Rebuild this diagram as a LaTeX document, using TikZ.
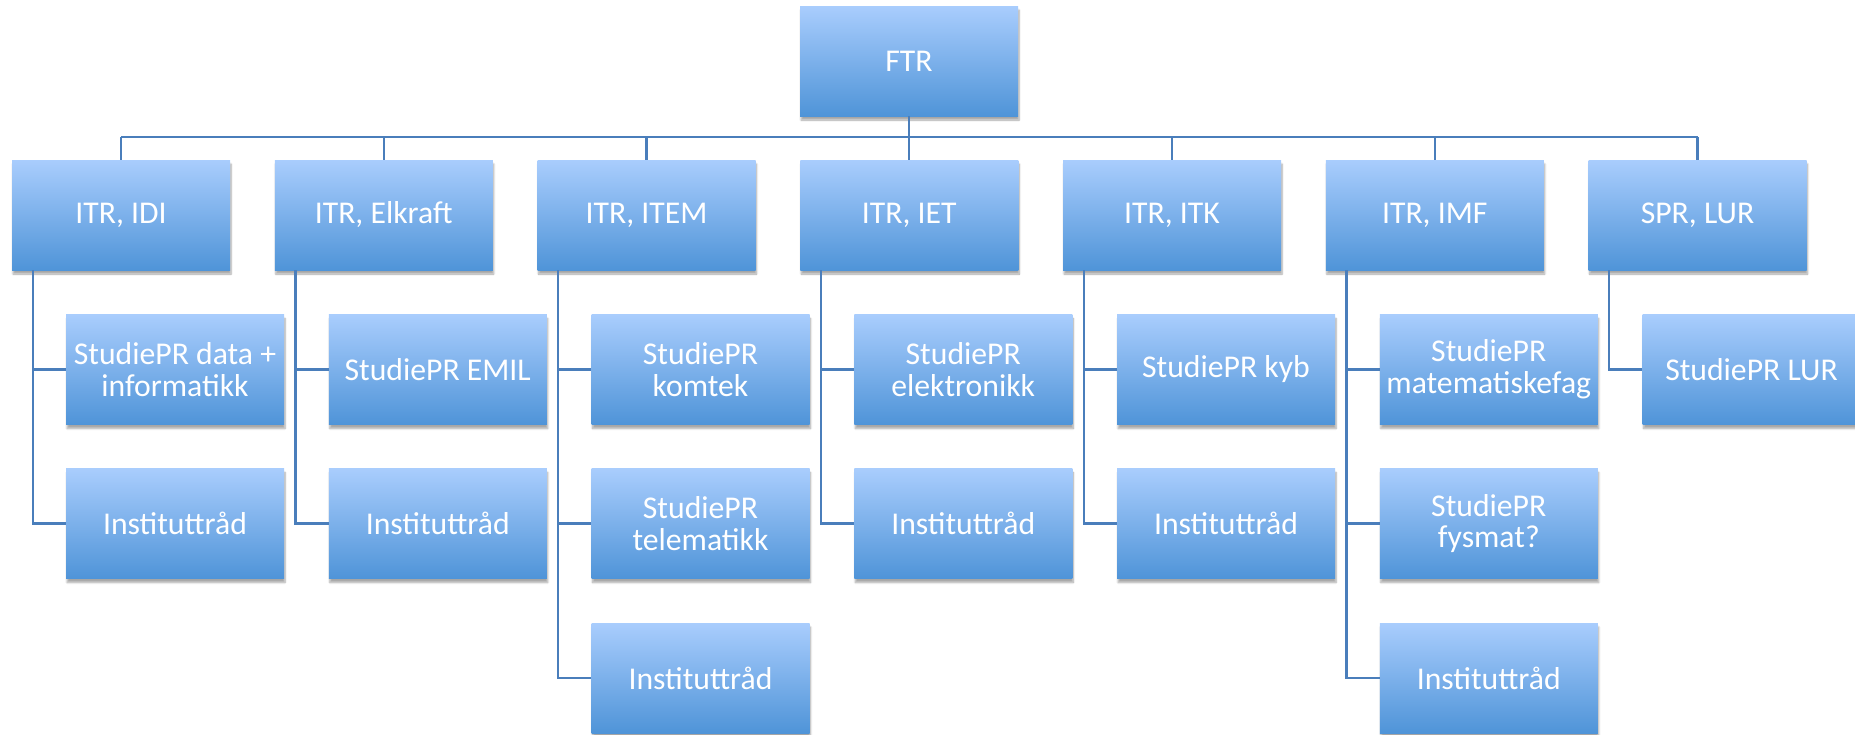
\documentclass[tikz,border=0pt]{standalone}
\usepackage{fontspec}
\setmainfont{Carlito}
\usetikzlibrary{shadows.blur}
\definecolor{boxtop}{HTML}{A9CDFD}
\definecolor{boxbot}{HTML}{4F94D8}
\definecolor{linec}{HTML}{4A7EBB}
\tikzset{
  orgbox/.style={rectangle, minimum width=218pt, minimum height=110pt, inner sep=0pt,
    top color=boxtop, bottom color=boxbot, draw=none, text=white, align=center,
    font=\fontsize{31.7}{31.7}\selectfont,
    blur shadow={shadow xshift=1pt, shadow yshift=-4pt, shadow blur steps=6, shadow blur extra rounding=0pt, shadow opacity=35}},
  conn/.style={draw=linec, line width=2.2pt}
}
\begin{document}
\begin{tikzpicture}[x=1pt,y=-1pt]
\useasboundingbox (0,0) rectangle (1855,734);
\clip (0,0) rectangle (1855,734);
\coordinate (bar) at (0,137);
% level 1
\node[orgbox] (ftr) at (909,61) {FTR};
\node[orgbox] (p1) at (121,215) {ITR, IDI};
\node[orgbox] (p2) at (383.75,215) {ITR, Elkraft};
\node[orgbox] (p3) at (646.5,215) {ITR, ITEM};
\node[orgbox] (p4) at (909.25,215) {ITR, IET};
\node[orgbox] (p5) at (1172,215) {ITR, ITK};
\node[orgbox] (p6) at (1434.75,215) {ITR, IMF};
\node[orgbox] (p7) at (1697.5,215) {SPR, LUR};
% children
\node[orgbox] (c11) at (175,369.5) {StudiePR data +\\informatikk};
\node[orgbox] (c12) at (175,523.5) {Instituttråd};
\node[orgbox] (c21) at (437.75,369.5) {StudiePR EMIL};
\node[orgbox] (c22) at (437.75,523.5) {Instituttråd};
\node[orgbox] (c31) at (700.5,369.5) {StudiePR\\komtek};
\node[orgbox] (c32) at (700.5,523.5) {StudiePR\\telematikk};
\node[orgbox] (c33) at (700.5,678) {Instituttråd};
\node[orgbox] (c41) at (963.25,369.5) {StudiePR\\elektronikk};
\node[orgbox] (c42) at (963.25,523.5) {Instituttråd};
\node[orgbox] (c51) at (1226,369.5) {StudiePR kyb};
\node[orgbox] (c52) at (1226,523.5) {Instituttråd};
\node[orgbox] (c61) at (1488.75,369.5) {StudiePR\\matematiskefag};
\node[orgbox] (c62) at (1488.75,523.5) {StudiePR\\fysmat?};
\node[orgbox] (c63) at (1488.75,678) {Instituttråd};
\node[orgbox] (c71) at (1751.5,369.5) {StudiePR LUR};
% connectors top
\draw[conn] (ftr.south) -- (ftr.south |- bar);
\draw[conn] (p1.north |- bar) -- (p7.north |- bar);
\foreach \i in {1,...,7} {\draw[conn] (p\i.north) -- (p\i.north |- bar);}
% connectors children
\foreach \p/\c in {p1/c11,p1/c12,p2/c21,p2/c22,p3/c31,p3/c32,p3/c33,p4/c41,p4/c42,p5/c51,p5/c52,p6/c61,p6/c62,p6/c63,p7/c71} {
  \draw[conn] ([xshift=21pt]\p.south west) |- (\c.west);
}
\end{tikzpicture}
\end{document}
